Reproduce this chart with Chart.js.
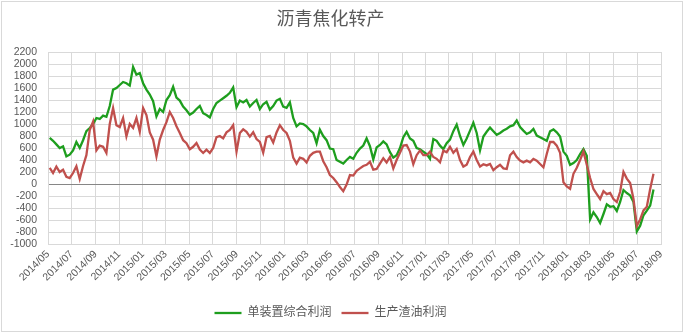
<!DOCTYPE html>
<html>
<head>
<meta charset="utf-8">
<script src="https://cdn.jsdelivr.net/npm/chart.js@4.4.0/dist/chart.umd.min.js"></script>
<style>
  html, body { margin: 0; padding: 0; background: #fff; }
  #wrap { position: relative; width: 689px; height: 335px; }
</style>
</head>
<body>
<div id="wrap"><canvas id="chart"></canvas></div>
<script>
// ── Data ──────────────────────────────────────────
const chartTitle = '沥青焦化转产';
const seriesNames = ['单装置综合利润', '生产渣油利润'];

// x axis ticks, every two months
const tickLabels = [
  '2014/05', '2014/07', '2014/09', '2014/11', '2015/01', '2015/03', '2015/05',
  '2015/07', '2015/09', '2015/11', '2016/01', '2016/03', '2016/05', '2016/07',
  '2016/09', '2016/11', '2017/01', '2017/03', '2017/05', '2017/07', '2017/09',
  '2017/11', '2018/01', '2018/03', '2018/05', '2018/07', '2018/09',
];
const yMin = -1000;
const yMax = 2200;
const yStep = 200;

// samples start a few days after 2014/05/01, one about every 8.6 days
const startDay = 4.4;
const stepDays = 8.62;

const unitProfit = [
  767, 720, 660, 600, 628, 461, 489, 560, 700, 600,
  730, 880, 934, 1000, 1100, 1084, 1140, 1120, 1300, 1573,
  1600, 1650, 1700, 1680, 1640, 1950, 1823, 1850, 1680, 1573,
  1490, 1380, 1128, 1250, 1200, 1400, 1480, 1620, 1440, 1390,
  1290, 1230, 1156, 1190, 1250, 1300, 1180, 1150, 1110, 1250,
  1350,
  1390, 1430, 1470, 1520, 1610, 1280, 1390, 1360, 1400, 1290,
  1350, 1400, 1250, 1330, 1370, 1240, 1300, 1390, 1420, 1290,
  1270, 1360, 1100, 960, 1010, 1000, 960, 900, 850, 680,
  906, 800, 730, 590, 580, 400, 370, 340, 400, 450,
  420, 520, 590, 640, 760, 630, 410, 610, 650, 710,
  660, 530, 440, 480, 600, 780, 870, 760, 720, 600,
  580, 540, 500, 420, 750, 720,
  639, 583, 680, 740, 880, 990, 800, 650, 760, 890,
  1020, 850, 560, 790, 870, 940, 880, 820, 850, 890,
  920, 960, 980, 1060, 950, 890, 834, 862, 917, 806,
  778, 750, 720, 880, 910, 860, 790, 540, 470, 320,
  350, 400, 500, 583, 470, -590, -472, -550, -650, -500,
  -340, -380, -370, -450, -300, -100, -150, -190, -300, -790,
  -695, -520, -445, -361, -90,
];

const residProfit = [
  267, 183, 290, 200, 239, 120, 100, 183, 295, 83,
  300, 480, 900, 1040, 560, 640, 620, 517, 1000, 1267,
  980, 950, 1100, 795, 1000, 934, 1100, 870, 1267, 1150,
  860, 739, 461, 740, 900, 1030, 1200, 1100, 962, 851,
  730, 680, 580, 620, 684, 573, 517, 573, 517, 600,
  780,
  800, 760, 860, 900, 980, 540, 850, 910, 870, 790,
  862, 750, 700, 520, 780, 800, 690, 860, 980, 900,
  850, 720, 440, 340, 440, 420, 360, 470, 520, 540,
  540, 380, 280, 150, 100, 30, -50, -120, -10, 150,
  140, 220, 260, 300, 320, 370, 240, 250, 340, 430,
  360, 450, 260, 400, 520, 640, 650, 540, 330, 480,
  560, 480, 480, 540, 450, 420,
  361, 556, 530, 620, 520, 583, 400, 290, 320, 450,
  540, 400, 290, 330, 310, 335, 230, 280, 320, 260,
  250, 480, 540, 450, 390, 361, 389, 361, 417, 389,
  333, 278, 500, 700, 700, 640, 520, 28, -40, -80,
  170, 270, 400, 540, 320, 100, -83, -167, -250, -120,
  -170, -150, -250, -300, -130, 200, 90, 15, -250, -700,
  -590, -440, -380, -83, 170,
];

// ── Helpers ───────────────────────────────────────
const DAY_MS = 86400000;
const originMs = Date.UTC(2014, 4, 1);
function dayOf(label) {
  const [y, m] = label.split('/').map(Number);
  return (Date.UTC(y, m - 1, 1) - originMs) / DAY_MS;
}
const tickDays = tickLabels.map(dayOf);
const toPoints = (values) => values.map((v, i) => ({ x: startDay + i * stepDays, y: v }));

const textColor = '#595959';
const gridColor = '#d9d9d9';
const fontFamily = "'Liberation Sans', 'Noto Sans CJK SC', sans-serif";

// light frame round the whole chart, like the spreadsheet chart area
const framePlugin = {
  id: 'frame',
  beforeDraw(chart) {
    const { ctx } = chart;
    ctx.save();
    ctx.strokeStyle = gridColor;
    ctx.lineWidth = 1;
    ctx.strokeRect(1.5, 1.5, 681, 330);
    ctx.restore();
  },
};

new Chart(document.getElementById('chart').getContext('2d'), {
  type: 'line',
  data: {
    datasets: [
      {
        label: seriesNames[0],
        data: toPoints(unitProfit),
        borderColor: '#1e9e1e',
        backgroundColor: '#1e9e1e',
        borderWidth: 2.3,
        pointRadius: 0,
        pointStyle: 'line',
        tension: 0,
        order: 2,
      },
      {
        label: seriesNames[1],
        data: toPoints(residProfit),
        borderColor: '#c0504d',
        backgroundColor: '#c0504d',
        borderWidth: 2.3,
        pointRadius: 0,
        pointStyle: 'line',
        tension: 0,
        order: 1,
      },
    ],
  },
  options: {
    responsive: true,
    maintainAspectRatio: false,
    animation: false,
    layout: { padding: { left: 0, right: 28, top: 0, bottom: 6 } },
    plugins: {
      title: {
        display: true,
        text: chartTitle,
        color: textColor,
        font: { family: fontFamily, size: 18, weight: 'normal' },
        padding: { top: 9, bottom: 21.4 },
      },
      legend: {
        display: true,
        position: 'bottom',
        labels: {
          color: textColor,
          font: { family: fontFamily, size: 12 },
          usePointStyle: true,
          pointStyleWidth: 27,
          boxWidth: 27,
          boxHeight: 12,
          padding: 10,
          sort: (a, b) => a.datasetIndex - b.datasetIndex,
        },
      },
      tooltip: { enabled: false },
    },
    scales: {
      x: {
        type: 'linear',
        min: 0,
        max: tickDays[tickDays.length - 1],
        afterBuildTicks: (scale) => { scale.ticks = tickDays.map((v) => ({ value: v })); },
        afterFit: (scale) => { scale.height = 53; },
        grid: { color: gridColor, drawTicks: false },
        border: { color: gridColor },
        ticks: {
          autoSkip: false,
          maxRotation: 45,
          minRotation: 45,
          padding: 4,
          color: textColor,
          font: { family: fontFamily, size: 10.5 },
          callback: (value, index) => tickLabels[index],
        },
      },
      y: {
        min: yMin,
        max: yMax,
        afterFit: (scale) => { scale.width = 48; },
        grid: {
          drawTicks: false,
          color: (ctx) => (ctx.tick && ctx.tick.value === 0 ? '#868686' : gridColor),
        },
        border: { color: gridColor },
        ticks: {
          stepSize: yStep,
          autoSkip: false,
          padding: 11,
          color: textColor,
          font: { family: fontFamily, size: 10.5 },
          callback: (value) => String(value),
        },
      },
    },
  },
  plugins: [framePlugin],
});
</script>
</body>
</html>
